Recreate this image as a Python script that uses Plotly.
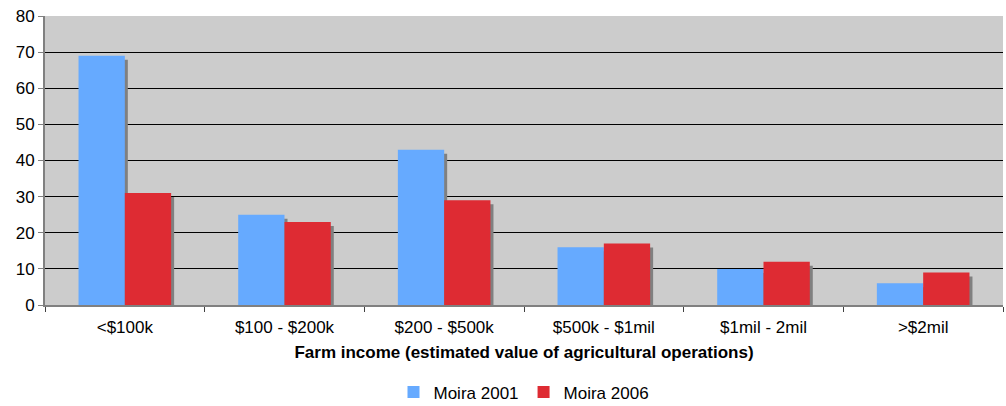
import plotly.graph_objects as go

# Farm income brackets and counts of farms for each census year
categories = ["<$100k", "$100 - $200k", "$200 - $500k", "$500k - $1mil", "$1mil - 2mil", ">$2mil"]
moira_2001 = [69, 25, 43, 16, 10, 6]
moira_2006 = [31, 23, 29, 17, 12, 9]
y_ticks = [0, 10, 20, 30, 40, 50, 60, 70, 80]

BLUE = "#66AAFF"
RED = "#DE2B33"
SHADOW = "#808080"
FONT = "Liberation Sans, Arial, sans-serif"
FS = 17

W, H = 1006, 406
M_L, M_R, M_T, M_B = 45, 3, 16, 101
plot_w = W - M_L - M_R
plot_h = H - M_T - M_B

Y_MAX = 80
BARGAP = 0.42
bar_w = (1 - BARGAP) / 2

# drop-shadow offset: a few pixels right and down, converted to axis units
dx = 3 * len(categories) / plot_w
dy = 4 * Y_MAX / plot_h

fig = go.Figure()
fig.add_trace(go.Bar(x=categories, y=moira_2001, name="Moira 2001",
                     marker=dict(color=BLUE, line=dict(width=0))))
fig.add_trace(go.Bar(x=categories, y=moira_2006, name="Moira 2006",
                     marker=dict(color=RED, line=dict(width=0))))

shapes = []
for series_idx, values in enumerate([moira_2001, moira_2006]):
    offset = -bar_w / 2 if series_idx == 0 else bar_w / 2
    for i, v in enumerate(values):
        cx = i + offset
        top = v - dy
        if top <= 0:
            continue
        shapes.append(dict(
            type="rect", xref="x", yref="y", layer="between",
            x0=cx - bar_w / 2 + dx, x1=cx + bar_w / 2 + dx,
            y0=0, y1=top,
            fillcolor=SHADOW, line=dict(width=0),
        ))

fig.update_layout(
    width=W, height=H,
    margin=dict(l=M_L, r=M_R, t=M_T, b=M_B, autoexpand=False),
    paper_bgcolor="white",
    plot_bgcolor="#CCCCCC",
    barmode="group",
    bargap=BARGAP,
    bargroupgap=0,
    font=dict(family=FONT, size=FS, color="black"),
    shapes=shapes,
    showlegend=True,
    legend=dict(
        orientation="h", x=0.5, xanchor="center", y=-0.303, yanchor="middle",
        font=dict(family=FONT, size=FS),
        itemwidth=30, tracegroupgap=0,
    ),
    xaxis=dict(
        type="category",
        automargin=False,
        tickson="boundaries",
        ticks="outside", ticklen=5, tickcolor="#404040", tickwidth=1,
        ticklabelstandoff=6,
        showline=True, linecolor=SHADOW, linewidth=2,
        showgrid=False,
        tickfont=dict(family=FONT, size=FS),
        title=dict(text="<b>Farm income (estimated value of agricultural operations)</b>",
                   font=dict(family=FONT, size=FS), standoff=10),
        range=[-0.5, len(categories) - 0.5],
    ),
    yaxis=dict(
        automargin=False,
        range=[0, Y_MAX],
        tickvals=y_ticks,
        ticks="outside", ticklen=5, tickcolor=SHADOW, tickwidth=1,
        showline=True, linecolor=SHADOW, linewidth=2,
        showgrid=True, gridcolor="black", gridwidth=1,
        zeroline=False,
        tickfont=dict(family=FONT, size=FS),
    ),
)

fig.write_html("out.html")
